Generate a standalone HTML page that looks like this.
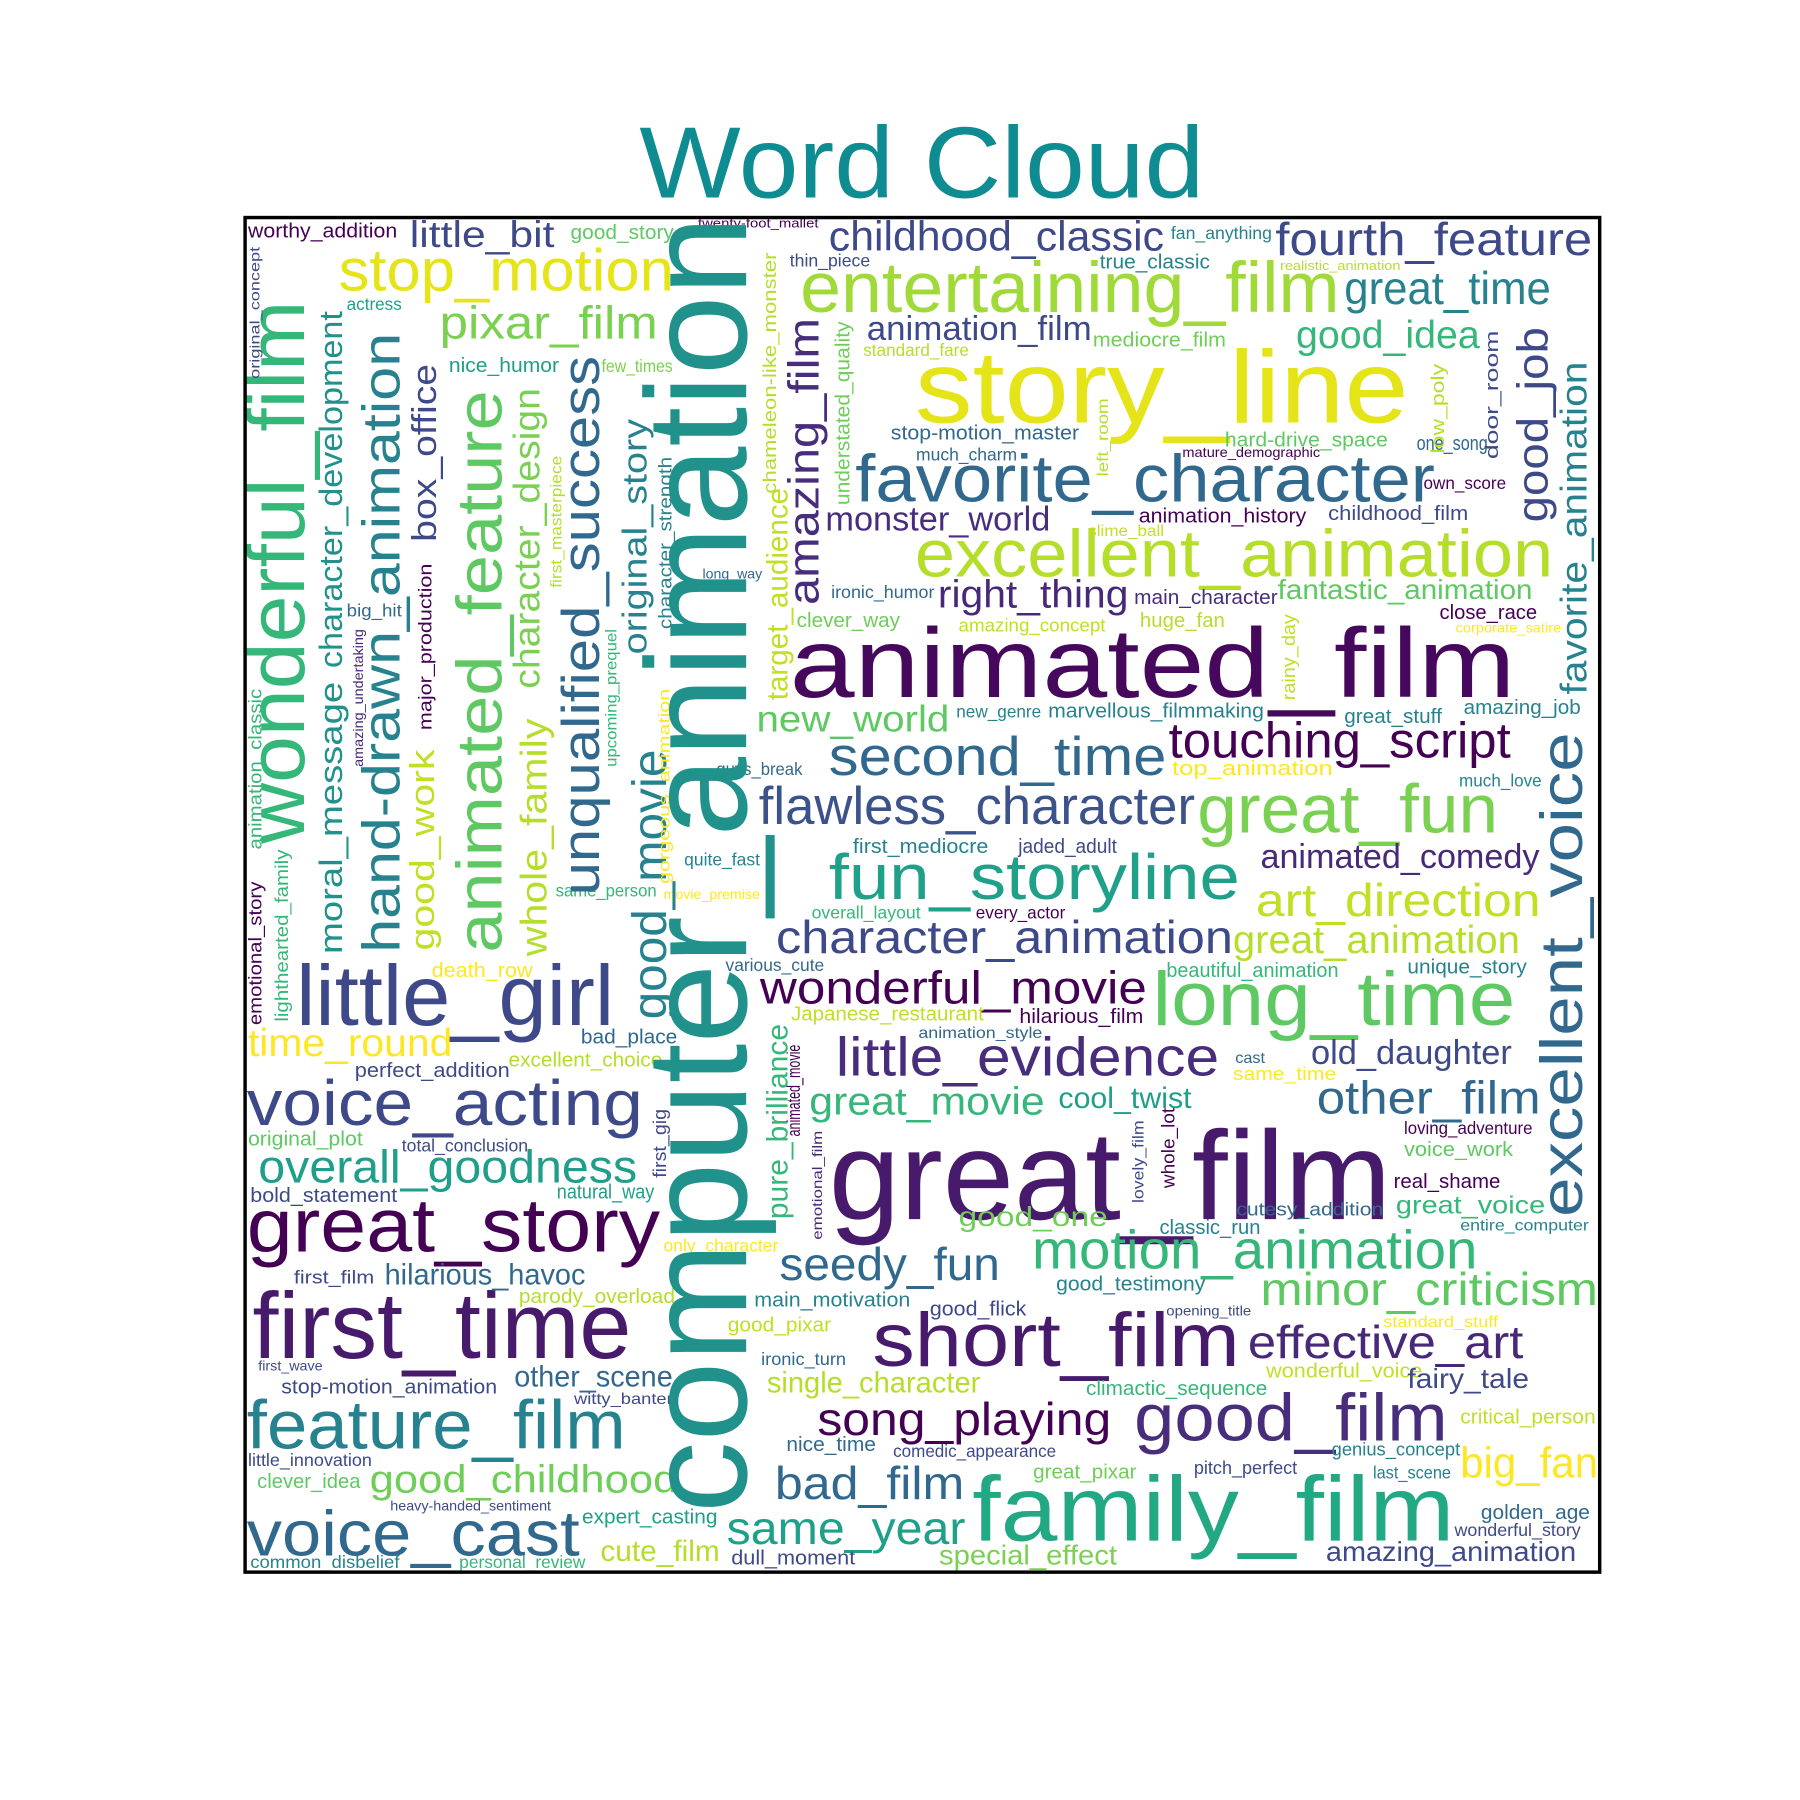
<!DOCTYPE html>
<html><head><meta charset="utf-8"><style>
html,body{margin:0;padding:0;background:#fff;}
svg{display:block;}
text{font-family:"Liberation Sans",sans-serif;}
</style></head><body>
<svg id="cloud" width="1800" height="1800" viewBox="0 0 1568 1568" xmlns="http://www.w3.org/2000/svg">
<rect x="0" y="0" width="1568" height="1568" fill="#fff"/>
<text x="803" y="172" text-anchor="middle" font-size="88" fill="#0e8c91" textLength="492" lengthAdjust="spacingAndGlyphs">Word Cloud</text>
<g id="words"></g>
<rect x="213.5" y="189.5" width="1180" height="1180" fill="none" stroke="#000" stroke-width="3"/>
</svg>
<script>
// Word weights (font size) keyed by word
const weights = {
"story_line":90,"animated_film":86,"great_film":110,"family_film":80,"entertaining_film":62,"favorite_character":58,"excellent_animation":58,"second_time":48,"touching_script":44,"flawless_character":46,"great_fun":60,"fun_storyline":56,"animated_comedy":30,"art_direction":40,"character_animation":40,"great_animation":34,"wonderful_movie":40,"long_time":66,"little_evidence":48,"old_daughter":30,"great_movie":34,"cool_twist":26,"other_film":40,"motion_animation":48,"minor_criticism":40,"short_film":66,"effective_art":40,"good_film":58,"song_playing":40,"seedy_fun":40,"bad_film":40,"same_year":40,"big_fan":38,"little_girl":74,"voice_acting":56,"overall_goodness":40,"great_story":66,"first_time":82,"feature_film":60,"voice_cast":56,"good_childhood":34,"stop_motion":52,"pixar_film":40,"little_bit":32,"childhood_classic":36,"fourth_feature":40,"great_time":40,"good_idea":34,"animation_film":30,"monster_world":30,"right_thing":34,"fantastic_animation":24,"new_world":32,"amazing_animation":24,"special_effect":24,"cute_film":26,"time_round":34,"hilarious_havoc":26,"other_scene":26,"single_character":26,
"worthy_addition":18,"good_story":18,"nice_humor":18,"few_times":15,"actress":15,"true_classic":18,"mediocre_film":18,"fan_anything":15,"twenty-foot_mallet":11,"thin_piece":15,"realistic_animation":11,"standard_fare":15,"stop-motion_master":18,"much_charm":15,"mature_demographic":12,"hard-drive_space":18,"one_song":18,"own_score":15,"animation_history":18,"childhood_film":18,"slime_ball":14,"main_character":18,"huge_fan":18,"close_race":18,"corporate_satire":12,"ironic_humor":15,"clever_way":18,"amazing_concept":16,"long_way":12,"big_hit":15,"new_genre":15,"marvellous_filmmaking":18,"great_stuff":18,"amazing_job":18,"top_animation":18,"guys_break":15,"much_love":15,"first_mediocre":18,"jaded_adult":18,"quite_fast":15,"same_person":15,"movie_premise":12,"overall_layout":15,"every_actor":15,"various_cute":15,"beautiful_animation":18,"unique_story":18,"death_row":18,"hilarious_film":18,"Japanese_restaurant":18,"animation_style":14,"bad_place":18,"excellent_choice":18,"perfect_addition":18,"cast":14,"same_time":16,"original_plot":18,"total_conclusion":15,"loving_adventure":15,"voice_work":18,"bold_statement":18,"natural_way":18,"real_shame":18,"good_one":24,"great_voice":22,"cutesy_addition":16,"classic_run":18,"entire_computer":14,"only_character":15,"first_film":16,"good_testimony":18,"parody_overload":18,"main_motivation":18,"good_flick":18,"opening_title":12,"standard_stuff":14,"good_pixar":18,"ironic_turn":15,"first_wave":12,"wonderful_voice":18,"fairy_tale":24,"stop-motion_animation":18,"climactic_sequence":18,"witty_banter":14,"critical_person":18,"nice_time":18,"comedic_appearance":15,"genius_concept":16,"little_innovation":15,"clever_idea":18,"great_pixar":18,"pitch_perfect":16,"last_scene":15,"heavy-handed_sentiment":12,"expert_casting":18,"golden_age":18,"wonderful_story":15,"common_disbelief":15,"personal_review":15,"dull_moment":18,
"wonderful_film":70,"character_development":28,"moral_message":28,"hand-drawn_animation":46,"box_office":30,"major_production":16,"good_work":30,"amazing_undertaking":12,"animated_feature":56,"character_design":32,"first_masterpiece":14,"whole_family":32,"unqualified_success":46,"upcoming_prequel":14,"original_story":30,"character_strength":16,"good_movie":42,"gorgeous_animation":14,"computer_animation":125,"chameleon-like_monster":16,"target_audience":26,"amazing_film":38,"understated_quality":18,"pure_brilliance":26,"animated_movie":16,"emotional_film":12,"first_gig":16,"left_room":14,"lovely_film":14,"whole_lot":16,"rainy_day":16,"low_poly":16,"door_room":16,"good_job":38,"favorite_animation":32,"excellent_voice":52,"emotional_story":16,"lighthearted_family":16,"animation_classic":16,"original_concept":12
};
// Colours keyed by word
const colorOf = {
"story_line":"#e4e419","animated_film":"#46085c","great_film":"#481a6c","family_film":"#23a884","entertaining_film":"#a0da39","favorite_character":"#31688e","excellent_animation":"#b5de2b","second_time":"#31688e","touching_script":"#440154","flawless_character":"#3b528b","great_fun":"#7ad151","fun_storyline":"#1fa088","animated_comedy":"#482878","art_direction":"#c2df23","character_animation":"#3e4989","great_animation":"#b5de2b","wonderful_movie":"#440154","long_time":"#5ec962","little_evidence":"#472d7b","old_daughter":"#3e4989","great_movie":"#35b779","cool_twist":"#1f9e89","other_film":"#31688e","motion_animation":"#35b779","minor_criticism":"#5ec962","short_film":"#481a6c","effective_art":"#482878","good_film":"#472d7b","song_playing":"#440154","seedy_fun":"#31688e","bad_film":"#31688e","same_year":"#1fa088","big_fan":"#fde725","little_girl":"#3e4989","voice_acting":"#3e4989","overall_goodness":"#1f9e89","great_story":"#440154","first_time":"#481a6c","feature_film":"#26828e","voice_cast":"#31688e","good_childhood":"#6ece58","stop_motion":"#e5e419","pixar_film":"#7ad151","little_bit":"#3e4989","childhood_classic":"#3e4989","fourth_feature":"#3e4989","great_time":"#26828e","good_idea":"#35b779","animation_film":"#3e4989","monster_world":"#472d7b","right_thing":"#482878","fantastic_animation":"#5ec962","new_world":"#5ec962","amazing_animation":"#3e4989","special_effect":"#7ad151","cute_film":"#b5de2b","time_round":"#fde725","hilarious_havoc":"#31688e","other_scene":"#31688e","single_character":"#b5de2b",
"worthy_addition":"#440154","good_story":"#5ec962","nice_humor":"#1f9e89","few_times":"#7ad151","actress":"#1f9e89","true_classic":"#26828e","mediocre_film":"#6ece58","fan_anything":"#26828e","twenty-foot_mallet":"#440154","thin_piece":"#3e4989","realistic_animation":"#b5de2b","standard_fare":"#b5de2b","stop-motion_master":"#31688e","much_charm":"#31688e","mature_demographic":"#440154","hard-drive_space":"#5ec962","one_song":"#31688e","own_score":"#440154","animation_history":"#440154","childhood_film":"#3e4989","slime_ball":"#c2df23","main_character":"#472d7b","huge_fan":"#b5de2b","close_race":"#440154","corporate_satire":"#fde725","ironic_humor":"#31688e","clever_way":"#6ece58","amazing_concept":"#c2df23","long_way":"#31688e","big_hit":"#31688e","new_genre":"#26828e","marvellous_filmmaking":"#26828e","great_stuff":"#26828e","amazing_job":"#26828e","top_animation":"#fde725","guys_break":"#31688e","much_love":"#26828e","first_mediocre":"#26828e","jaded_adult":"#3e4989","quite_fast":"#26828e","same_person":"#35b779","movie_premise":"#fde725","overall_layout":"#35b779","every_actor":"#440154","various_cute":"#31688e","beautiful_animation":"#35b779","unique_story":"#26828e","death_row":"#fde725","hilarious_film":"#440154","Japanese_restaurant":"#c2df23","animation_style":"#31688e","bad_place":"#31688e","excellent_choice":"#b5de2b","perfect_addition":"#3e4989","cast":"#31688e","same_time":"#fde725","original_plot":"#5ec962","total_conclusion":"#3e4989","loving_adventure":"#440154","voice_work":"#5ec962","bold_statement":"#3e4989","natural_way":"#1f9e89","real_shame":"#440154","good_one":"#6ece58","great_voice":"#35b779","cutesy_addition":"#31688e","classic_run":"#26828e","entire_computer":"#26828e","only_character":"#fde725","first_film":"#3e4989","good_testimony":"#26828e","parody_overload":"#b5de2b","main_motivation":"#26828e","good_flick":"#3e4989","opening_title":"#3e4989","standard_stuff":"#fde725","good_pixar":"#c2df23","ironic_turn":"#31688e","first_wave":"#3e4989","wonderful_voice":"#c2df23","fairy_tale":"#3e4989","stop-motion_animation":"#3e4989","climactic_sequence":"#35b779","witty_banter":"#3e4989","critical_person":"#c2df23","nice_time":"#31688e","comedic_appearance":"#3e4989","genius_concept":"#26828e","little_innovation":"#3e4989","clever_idea":"#5ec962","great_pixar":"#6ece58","pitch_perfect":"#3e4989","last_scene":"#26828e","heavy-handed_sentiment":"#3e4989","expert_casting":"#1fa088","golden_age":"#31688e","wonderful_story":"#3e4989","common_disbelief":"#26828e","personal_review":"#35b779","dull_moment":"#3e4989",
"wonderful_film":"#35b779","character_development":"#21918c","moral_message":"#21918c","hand-drawn_animation":"#26828e","box_office":"#3e4989","major_production":"#440154","good_work":"#c2df23","amazing_undertaking":"#482878","animated_feature":"#5ec962","character_design":"#7ad151","first_masterpiece":"#b5de2b","whole_family":"#b5de2b","unqualified_success":"#31688e","upcoming_prequel":"#35b779","original_story":"#26828e","character_strength":"#26828e","good_movie":"#26828e","gorgeous_animation":"#fde725","computer_animation":"#21918c","chameleon-like_monster":"#b5de2b","target_audience":"#c2df23","amazing_film":"#472d7b","understated_quality":"#6ece58","pure_brilliance":"#35b779","animated_movie":"#440154","emotional_film":"#482878","first_gig":"#3e4989","left_room":"#b5de2b","lovely_film":"#3e4989","whole_lot":"#440154","rainy_day":"#c2df23","low_poly":"#b5de2b","door_room":"#3e4989","good_job":"#3e4989","favorite_animation":"#26828e","excellent_voice":"#31688e","emotional_story":"#440154","lighthearted_family":"#35b779","animation_classic":"#35b779","original_concept":"#3e4989"
};
const words = Object.keys(weights);
// Vertical (rotated) words
const verticalWords = ["wonderful_film","character_development","moral_message","hand-drawn_animation","box_office","major_production","good_work","amazing_undertaking","animated_feature","character_design","first_masterpiece","whole_family","unqualified_success","upcoming_prequel","original_story","character_strength","good_movie","gorgeous_animation","computer_animation","chameleon-like_monster","target_audience","amazing_film","understated_quality","pure_brilliance","animated_movie","emotional_film","first_gig","left_room","lovely_film","whole_lot","rainy_day","low_poly","door_room","good_job","favorite_animation","excellent_voice","emotional_story","lighthearted_family","animation_classic","original_concept"];
// Layout: [x, baseline y, rendered length] in 1568 view units
const layout = {
"story_line":[797,368,430],"animated_film":[688,607,632],"great_film":[722,1062,490],"family_film":[847,1342,420],"entertaining_film":[697,272,470],"favorite_character":[745,437,505],"excellent_animation":[797,502,556],"second_time":[722,675,294],"touching_script":[1018,660,298],"flawless_character":[661,718,380],"great_fun":[1043,725,262],"fun_storyline":[722,783,358],"animated_comedy":[1098,756,243],"art_direction":[1094,798,248],"character_animation":[676,830,398],"great_animation":[1074,830,250],"wonderful_movie":[662,874,337],"long_time":[1004,893,316],"little_evidence":[728,937,334],"old_daughter":[1142,927,175],"great_movie":[705,971,205],"cool_twist":[922,965,116],"other_film":[1147,970,195],"motion_animation":[899,1105,388],"minor_criticism":[1098,1137,294],"short_film":[760,1190,320],"effective_art":[1087,1183,240],"good_film":[988,1255,273],"song_playing":[712,1250,256],"seedy_fun":[679,1115,192],"bad_film":[675,1306,165],"same_year":[633,1345,208],"big_fan":[1272,1287,120],"little_girl":[258,893,277],"voice_acting":[215,980,345],"overall_goodness":[225,1030,330],"great_story":[215,1090,360],"first_time":[220,1183,330],"feature_film":[215,1262,330],"voice_cast":[215,1355,290],"good_childhood":[322,1300,268],"stop_motion":[295,253,292],"pixar_film":[383,295,190],"little_bit":[357,215,126],"childhood_classic":[722,218,292],"fourth_feature":[1111,222,276],"great_time":[1171,265,180],"good_idea":[1129,303,160],"animation_film":[755,296,196],"monster_world":[719,462,196],"right_thing":[817,529,166],"fantastic_animation":[1113,522,222],"new_world":[659,637,168],"amazing_animation":[1155,1360,218],"special_effect":[818,1363,155],"cute_film":[523,1360,104],"time_round":[216,920,178],"hilarious_havoc":[335,1119,175],"other_scene":[448,1208,138],"single_character":[668,1213,186],
"worthy_addition":[216,207,130],"good_story":[497,208,90],"nice_humor":[391,324,96],"few_times":[524,324,62],"actress":[302,270,48],"true_classic":[958,234,96],"mediocre_film":[952,302,116],"fan_anything":[1020,208,88],"twenty-foot_mallet":[608,198,105],"thin_piece":[688,232,70],"realistic_animation":[1115,235,105],"standard_fare":[752,310,92],"stop-motion_master":[776,383,164],"much_charm":[798,401,88],"mature_demographic":[1030,398,120],"hard-drive_space":[1067,389,142],"one_song":[1234,392,62],"own_score":[1240,426,72],"animation_history":[992,455,146],"childhood_film":[1157,453,122],"slime_ball":[948,467,66],"main_character":[988,526,125],"huge_fan":[993,546,74],"close_race":[1254,539,85],"corporate_satire":[1268,551,92],"ironic_humor":[724,521,90],"clever_way":[694,546,90],"amazing_concept":[835,550,128],"long_way":[612,504,52],"big_hit":[302,537,48],"new_genre":[833,625,74],"marvellous_filmmaking":[913,625,188],"great_stuff":[1171,630,85],"amazing_job":[1275,622,102],"top_animation":[1021,675,140],"guys_break":[624,675,75],"much_love":[1271,685,72],"first_mediocre":[743,743,118],"jaded_adult":[887,743,86],"quite_fast":[596,754,66],"same_person":[484,781,88],"movie_premise":[578,783,84],"overall_layout":[707,800,95],"every_actor":[850,800,78],"various_cute":[632,846,86],"beautiful_animation":[1016,851,150],"unique_story":[1226,848,104],"death_row":[376,851,88],"hilarious_film":[888,891,108],"Japanese_restaurant":[689,889,168],"animation_style":[800,904,108],"bad_place":[506,909,84],"excellent_choice":[443,929,134],"perfect_addition":[309,938,135],"cast":[1076,926,26],"same_time":[1074,941,90],"original_plot":[216,998,100],"total_conclusion":[350,1003,110],"loving_adventure":[1223,988,112],"voice_work":[1223,1007,95],"bold_statement":[218,1047,128],"natural_way":[485,1044,85],"real_shame":[1214,1035,93],"good_one":[835,1068,130],"great_voice":[1216,1057,130],"cutesy_addition":[1077,1059,128],"classic_run":[1010,1075,88],"entire_computer":[1272,1072,112],"only_character":[578,1090,100],"first_film":[256,1118,70],"good_testimony":[920,1124,130],"parody_overload":[452,1135,136],"main_motivation":[657,1138,136],"good_flick":[810,1146,84],"opening_title":[1016,1146,74],"standard_stuff":[1205,1156,100],"good_pixar":[634,1160,90],"ironic_turn":[663,1189,74],"first_wave":[225,1194,56],"wonderful_voice":[1103,1200,136],"fairy_tale":[1226,1209,106],"stop-motion_animation":[245,1214,188],"climactic_sequence":[946,1215,158],"witty_banter":[500,1223,86],"critical_person":[1272,1240,118],"nice_time":[685,1264,78],"comedic_appearance":[778,1269,142],"genius_concept":[1160,1268,112],"little_innovation":[216,1277,108],"clever_idea":[224,1296,90],"great_pixar":[900,1288,90],"pitch_perfect":[1040,1284,90],"last_scene":[1196,1288,68],"heavy-handed_sentiment":[340,1316,140],"expert_casting":[507,1327,118],"golden_age":[1290,1323,95],"wonderful_story":[1267,1338,110],"common_disbelief":[218,1366,130],"personal_review":[400,1366,110],"dull_moment":[637,1363,108],
"wonderful_film":[265,735,473],"character_development":[298,582,311],"moral_message":[298,831,237],"hand-drawn_animation":[348,830,540],"box_office":[380,472,155],"major_production":[376,636,145],"good_work":[378,828,175],"amazing_undertaking":[316,668,120],"animated_feature":[437,830,490],"character_design":[470,600,262],"first_masterpiece":[489,512,115],"whole_family":[476,833,207],"unqualified_success":[522,780,470],"upcoming_prequel":[537,668,120],"original_story":[563,570,205],"character_strength":[585,548,150],"good_movie":[580,888,235],"gorgeous_animation":[583,770,170],"computer_animation":[650,1318,1130],"chameleon-like_monster":[676,430,210],"target_audience":[686,610,185],"amazing_film":[713,527,250],"understated_quality":[740,440,160],"pure_brilliance":[686,1062,170],"animated_movie":[697,990,80],"emotional_film":[716,1080,95],"first_gig":[580,1026,60],"left_room":[965,415,68],"lovely_film":[996,1048,72],"whole_lot":[1023,1035,70],"rainy_day":[1128,610,75],"low_poly":[1258,395,78],"door_room":[1305,400,112],"good_job":[1348,455,170],"favorite_animation":[1382,605,290],"excellent_voice":[1378,1060,422],"emotional_story":[228,893,125],"lighthearted_family":[251,890,150],"animation_classic":[228,740,140],"original_concept":[226,330,115]
};
const g = document.getElementById('words');
const NS = 'http://www.w3.org/2000/svg';
for (const w of words) {
  const p = layout[w];
  if (!p) continue;
  const t = document.createElementNS(NS, 'text');
  
  
  t.setAttribute('font-size', weights[w]);
  t.setAttribute('fill', colorOf[w]);
  t.setAttribute('textLength', p[2]);
  t.setAttribute('lengthAdjust', 'spacingAndGlyphs');
  if (verticalWords.includes(w)) {
    t.setAttribute('x', 0); t.setAttribute('y', 0);
    t.setAttribute('transform', 'translate(' + p[0] + ',' + p[1] + ') rotate(-90)');
  } else {
    t.setAttribute('x', p[0]); t.setAttribute('y', p[1]);
  }
  t.textContent = w;
  g.appendChild(t);
}
</script>
</body></html>
